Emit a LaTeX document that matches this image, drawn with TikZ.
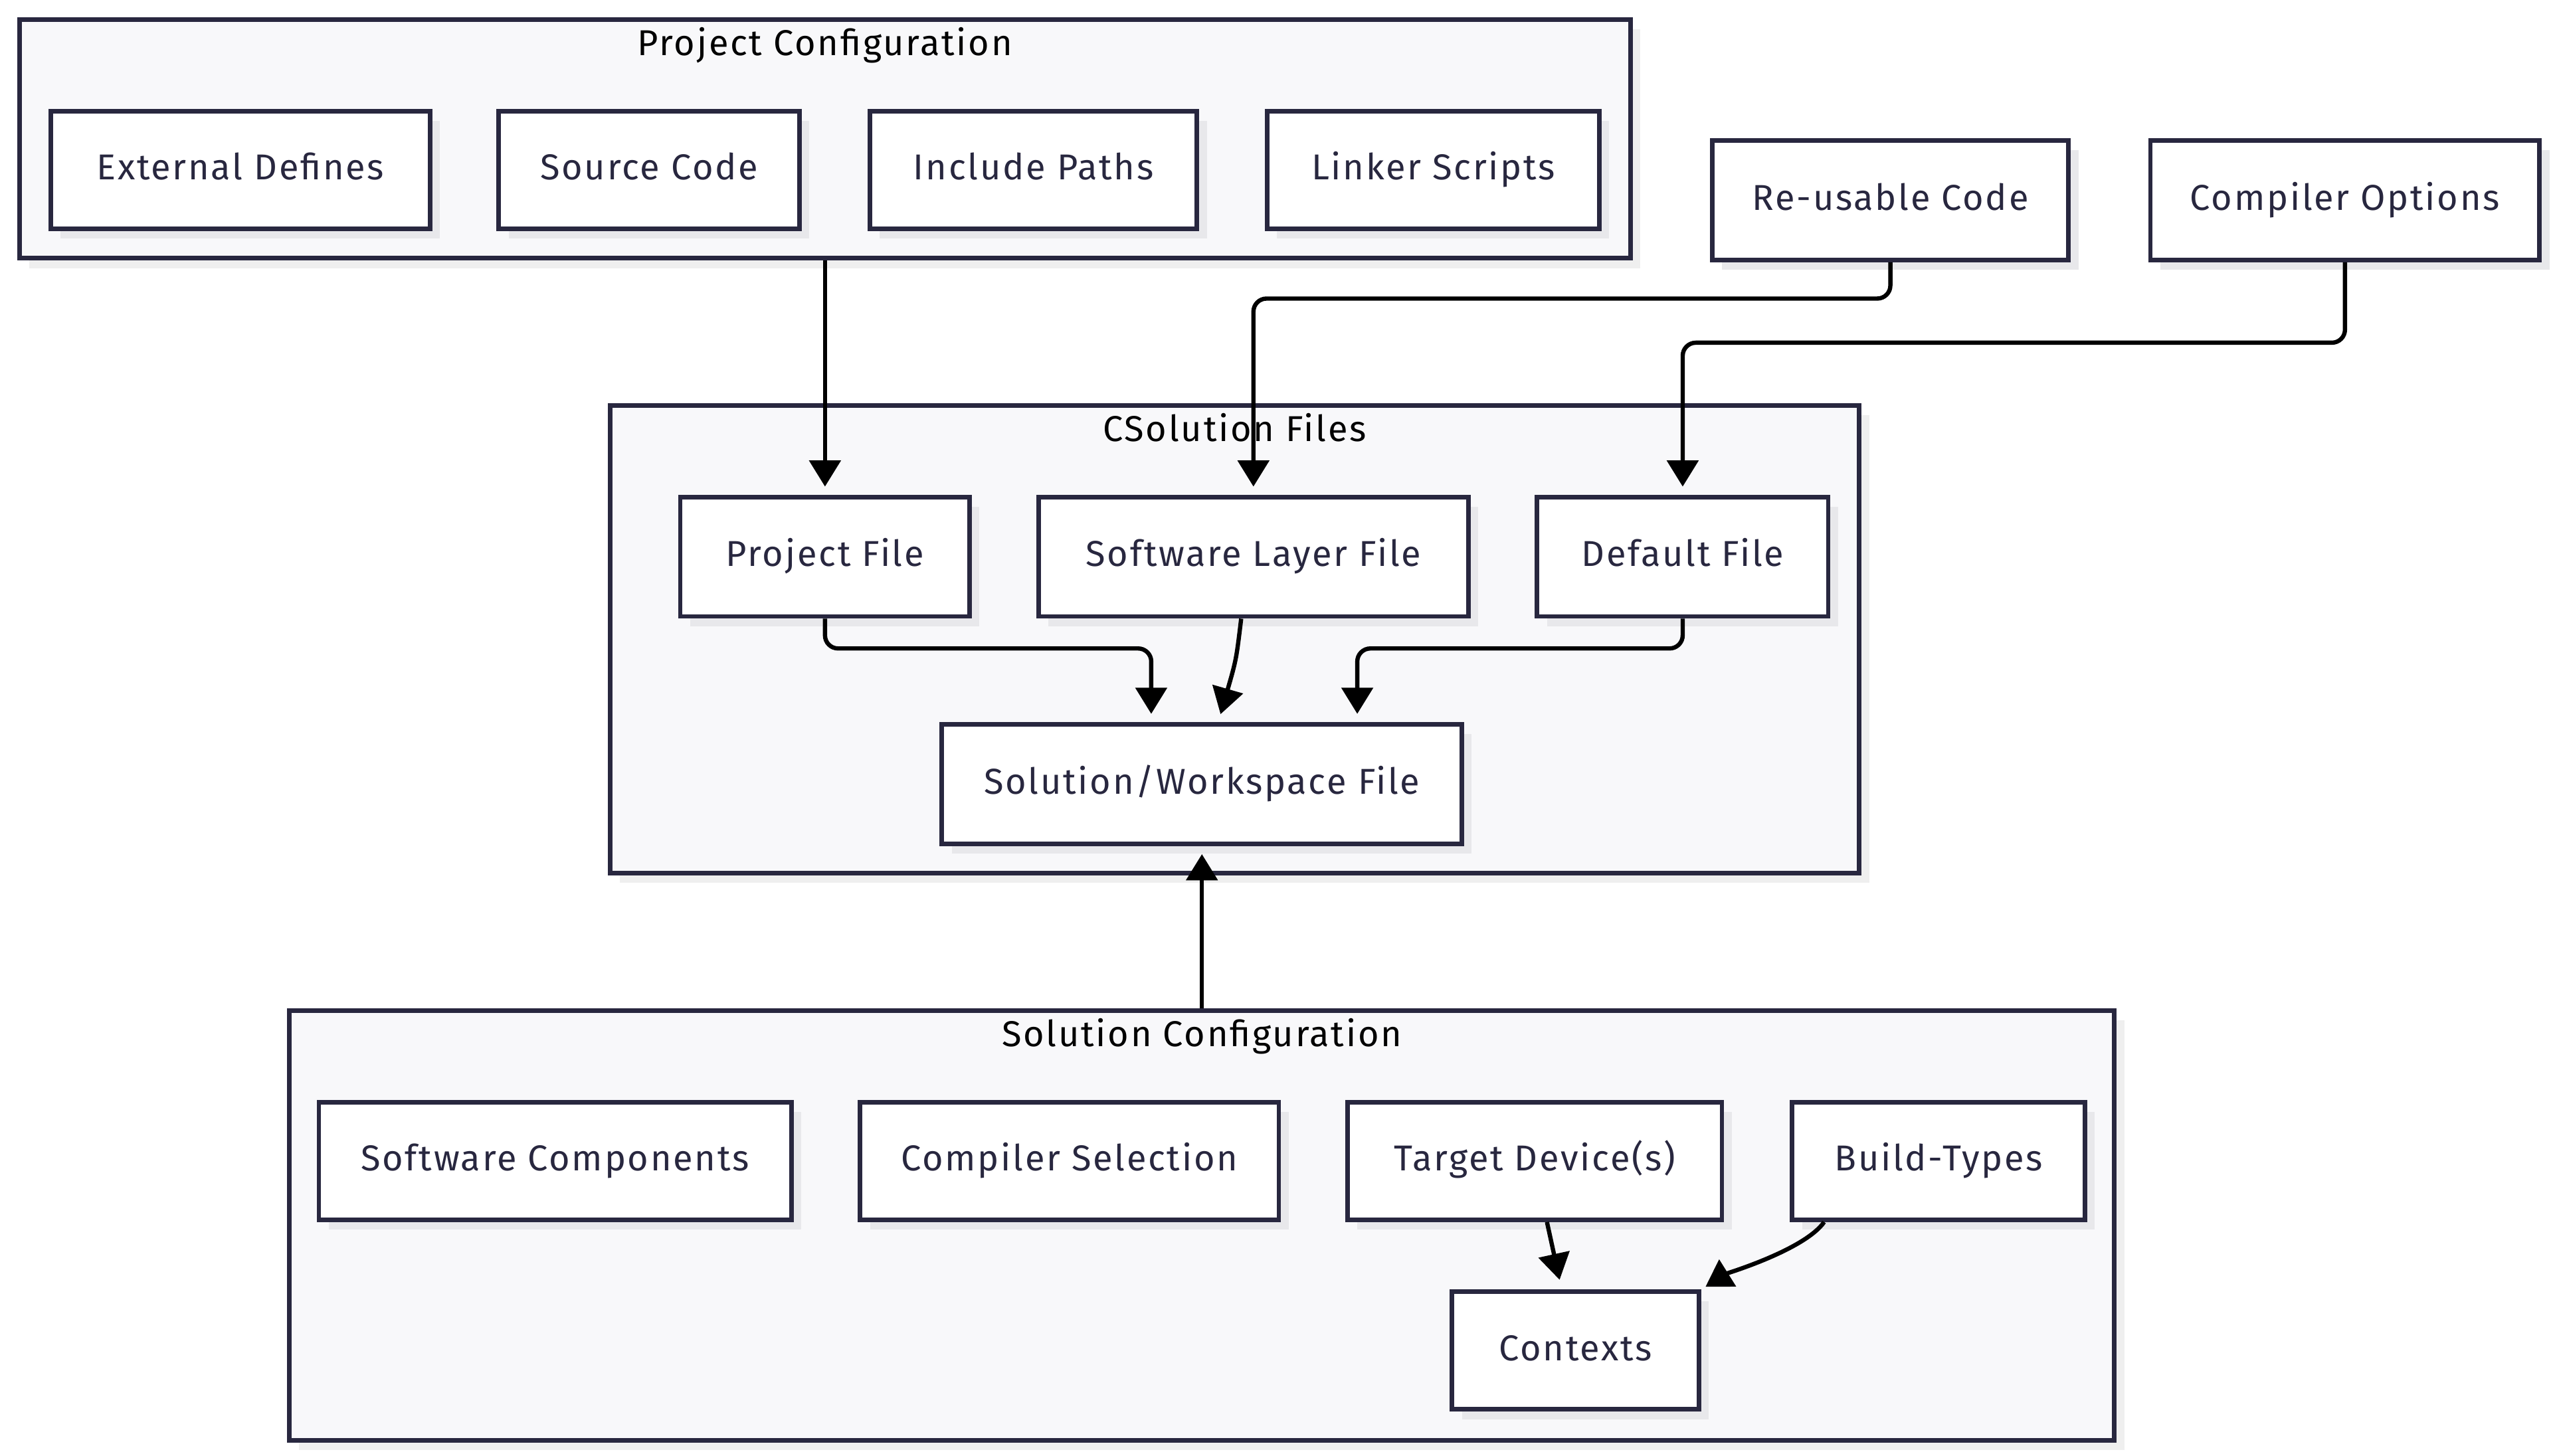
\documentclass[tikz,border=0pt]{standalone}
\usepackage{fontspec}
\setmainfont{Fira Sans}[LetterSpace=5]
\usetikzlibrary{arrows.meta,positioning,calc,shadows}
\definecolor{nodeline}{HTML}{28273F}
\definecolor{clusterfill}{HTML}{F8F8FA}
\definecolor{nodeshade}{HTML}{E8E8EB}
\definecolor{clustershade}{HTML}{EFEFEF}
\tikzset{
	box/.style={draw=nodeline,line width=2.8pt,fill=white,rectangle,align=center,
		minimum height=72pt,inner sep=0pt,text=nodeline,text height=16pt,text depth=4pt,
		font=\fontsize{22}{26}\selectfont,
		general shadow={fill=nodeshade,shadow xshift=6pt,shadow yshift=-6pt}},
	cluster/.style={draw=nodeline,line width=2.8pt,fill=clusterfill,rectangle,inner sep=0pt,
		general shadow={fill=clustershade,shadow xshift=6pt,shadow yshift=-6pt}},
	ctitle/.style={text=black,inner sep=0pt,text height=16pt,text depth=4pt,
		font=\fontsize{22}{26}\selectfont},
	link/.style={draw=black,line width=2.6pt,-{Triangle[length=16pt,width=19pt]},
		shorten >=5pt,rounded corners=8pt}
}
\begin{document}
\begin{tikzpicture}[x=1pt,y=-1pt]
			\useasboundingbox[fill=white] (0,0) rectangle (1560,890.5);
			% groups
			\node[cluster,minimum width=985pt,minimum height=146pt] (projcfg) at (504.5,85) {};
			\node[cluster,minimum width=764pt,minimum height=286pt] (csol) at (755,391) {};
			\node[cluster,minimum width=1116pt,minimum height=263pt] (solcfg) at (735,749.5) {};
			\node[ctitle] (projcfgtitle) at (504.5,28) {Project Configuration};
			\node[ctitle] (csoltitle) at (755,264) {CSolution Files};
			\node[ctitle] (solcfgtitle) at (735,634) {Solution Configuration};
			
			\node[box,minimum width=232pt] (extdef) at (147,104) {External Defines};
			\node[box,minimum width=184pt] (srccode) at (397,104) {Source Code};
			\node[box,minimum width=200pt] (incpath) at (632,104) {Include Paths};
			\node[box,minimum width=203pt] (linker) at (876.5,104) {Linker Scripts};
			\node[box,minimum width=218pt,minimum height=73pt] (reuse) at (1156,122.5) {Re-usable Code};
			\node[box,minimum width=238pt,minimum height=73pt] (compopt) at (1434,122.5) {Compiler Options};
			
			\node[box,minimum width=177pt,minimum height=73pt] (projfile) at (504.5,340.5) {Project File};
			\node[box,minimum width=263pt,minimum height=73pt] (layerfile) at (766.5,340.5) {Software Layer File};
			\node[box,minimum width=178pt,minimum height=73pt] (deffile) at (1029,340.5) {Default File};
			\node[box,minimum width=318pt,minimum height=73pt] (solfile) at (735,479.5) {Solution/Workspace File};
			
			\node[box,minimum width=289pt] (swcomp) at (339.5,710) {Software Components};
			\node[box,minimum width=256pt] (compsel) at (654,710) {Compiler Selection};
			\node[box,minimum width=229pt] (target) at (938.5,710) {Target Device(s)};
			\node[box,minimum width=179pt] (buildtype) at (1185.5,710) {Build-Types};
			\node[box,minimum width=151pt] (contexts) at (963.5,826) {Contexts};
			
			% links
			\draw[link] (projcfg.south) -- (projfile.north);
			\draw[link] (reuse.south) |- ($(layerfile.north)+(0,-120)$) -- (layerfile.north);
			\draw[link] (compopt.south) |- ($(deffile.north)+(0,-93)$) -- (deffile.north);
			\draw[link] (projfile.south) |- ($(solfile.north)+(-31,-45)$) -- ($(solfile.north)+(-31,0)$);
			\draw[link] ($(layerfile.south)+(-7.5,0)$) .. controls +(-3,25) .. ($(solfile.north)+(10,0)$);
			\draw[link] (deffile.south) |- ($(solfile.north)+(95,-45)$) -- ($(solfile.north)+(95,0)$);
			\draw[link] (solcfg.north) .. controls +(0,-45) and +(0,30) .. (solfile.south);
			\draw[link,shorten >=6pt] ($(target.south)+(7.5,0)$) -- ($(contexts.north)+(-8.5,0)$);
			\draw[link,shorten >=3pt] ($(buildtype.south)+(-70,0)$) .. controls +(-12,17) and +(16,-10) .. (contexts.north east);
		\end{tikzpicture}
\end{document}
